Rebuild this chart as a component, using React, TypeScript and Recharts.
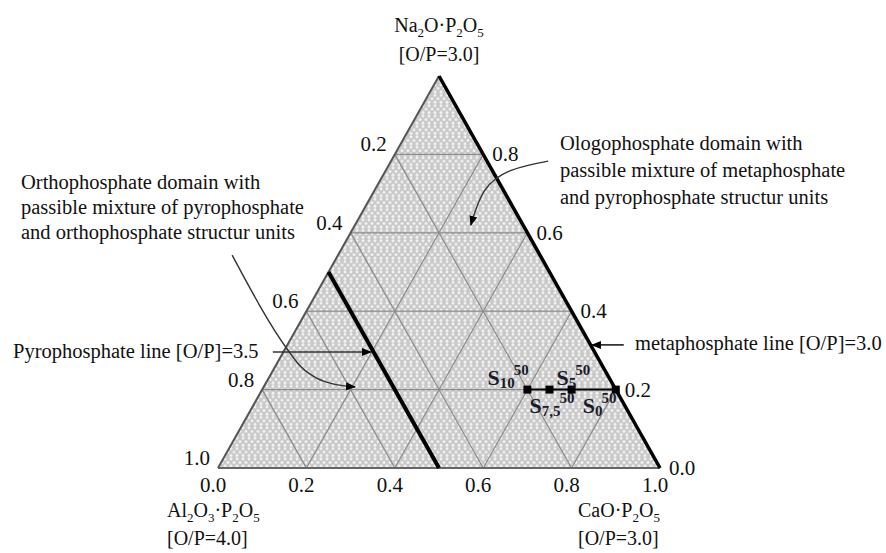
import React from 'react';
import { ComposedChart, XAxis, YAxis, Area, Line, Scatter, ReferenceLine } from 'recharts';

const FONT = "'Liberation Serif', 'Times New Roman', serif";

// grid spacing and tick values (mole fractions)
const gridSteps = [0.2, 0.4, 0.6, 0.8];
const bottomTicks = [0, 0.2, 0.4, 0.6, 0.8, 1.0]; // CaO·P2O5
const rightTicks = [0, 0.2, 0.4, 0.6, 0.8]; // Na2O·P2O5
const leftTicks = [0.2, 0.4, 0.6, 0.8, 1.0]; // Al2O3·P2O5

// glass samples
const sampleNames = ['S10', 'S7,5', 'S5', 'S0'];
const sampleAl = [0.2, 0.15, 0.1, 0];
const sampleNa = [0.2, 0.2, 0.2, 0.2];

// pyrophosphate line [O/P]=3.5 at constant Al2O3·P2O5
const pyroAl = 0.5;

// corners: Na2O·P2O5 (top), Al2O3·P2O5 (left), CaO·P2O5 (right)
const cornerNa = [1, 0, 0];
const cornerAl = [0, 1, 0];
const cornerNames = ['Na2O·P2O5', 'Al2O3·P2O5', 'CaO·P2O5'];
const cornerOP = ['[O/P=3.0]', '[O/P=4.0]', '[O/P=3.0]'];

// annotation arrows in plot coordinates (x along the base, y = height)
const ologoArrowX = [0.747, 0.665, 0.604, 0.572];
const ologoArrowY = [0.783, 0.76, 0.709, 0.62];
const orthoArrowX = [0.032, 0.158, 0.186, 0.222, 0.262, 0.31];
const orthoArrowY = [0.543, 0.301, 0.26, 0.23, 0.214, 0.207];
const pyroArrowX = [0.124, 0.346];
const pyroArrowY = [0.296, 0.296];
const metaArrowX = [0.918, 0.846];
const metaArrowY = [0.314, 0.314];

const ologoText = ['Ologophosphate domain with', 'passible mixture of metaphosphate', 'and pyrophosphate structur units'];
const orthoText = ['Orthophosphate domain with', 'passible mixture of pyrophosphate', 'and orthophosphate structur units'];

// ternary -> plot coordinates
const pt = (na: number, al: number) => ({ x: 1 - al - na / 2, y: na });

const zip = (xs: number[], ys: number[]) => xs.map((x, i) => ({ x, y: ys[i] }));

const triangle = [pt(0, 1), pt(1, 0), pt(0, 0)];

const samples = sampleNames.map((name, i) => ({ ...pt(sampleNa[i], sampleAl[i]), name }));

const corners = cornerNames.map((name, i) => ({ ...pt(cornerNa[i], cornerAl[i]), name, op: cornerOP[i] }));

const bottomData = bottomTicks.map(t => ({ ...pt(0, 1 - t), label: t.toFixed(1) }));
const rightData = rightTicks.map(t => ({ ...pt(t, 0), label: t.toFixed(1) }));
const leftData = leftTicks.map(t => ({ ...pt(1 - t, t), label: t.toFixed(1) }));

// label offsets for sample names (px from the point)
const sampleLabelOffset: Record<string, [number, number]> = {
  'S10': [-40, -5],
  'S5': [-15, -5],
  'S7,5': [-20, 23],
  'S0': [-33, 23],
};

// formula with subscripted digits
const formula = (s: string, size: number, sub: number) => {
  const parts = s.split(/(\d+)/).filter(Boolean);
  const out: React.ReactNode[] = [];
  let low = false;
  parts.forEach((p, i) => {
    const isNum = /^\d+$/.test(p);
    if (isNum) {
      out.push(<tspan key={i} dy={low ? 0 : 5} fontSize={sub}>{p}</tspan>);
      low = true;
    } else {
      out.push(<tspan key={i} dy={low ? -5 : 0} fontSize={size}>{p}</tspan>);
      low = false;
    }
  });
  return out;
};

const tickShape = (dx: number, dy: number, anchor: string) => (p: any) => (
  <text x={p.cx + dx} y={p.cy + dy} textAnchor={anchor} fontFamily={FONT} fontSize={21} fill="#111">
    {p.payload.label}
  </text>
);

const cornerShape = (p: any) => {
  const name = p.payload.name as string;
  let dx = 0;
  let dy1 = 49;
  let dy2 = 77;
  let anchor = 'start';
  if (name.startsWith('Na')) { anchor = 'middle'; dy1 = -44; dy2 = -15; }
  else if (name.startsWith('Al')) { dx = -51; }
  else { dx = -82; }
  return (
    <g>
      <text x={p.cx + dx} y={p.cy + dy1} textAnchor={anchor} fontFamily={FONT} fontSize={20} fill="#111">
        {formula(name, 20, 13)}
      </text>
      <text x={p.cx + dx} y={p.cy + dy2} textAnchor={anchor} fontFamily={FONT} fontSize={20} fill="#111">
        {p.payload.op}
      </text>
    </g>
  );
};

const sampleLabel = (p: any) => {
  const name = p.payload.name as string;
  const [dx, dy] = sampleLabelOffset[name];
  return (
    <text x={p.cx + dx} y={p.cy + dy} fontFamily={FONT} fontWeight="bold" fontSize={22} fill="#1a1a28">
      <tspan>S</tspan>
      <tspan dy={3} fontSize={15}>{name.slice(1)}</tspan>
      <tspan dy={-13} dx={-1} fontSize={15}>50</tspan>
    </text>
  );
};

const gridStroke = '#8a8a8a';
const noteStyle: React.CSSProperties = {
  position: 'absolute', fontFamily: FONT, fontSize: 20.5, color: '#111', whiteSpace: 'pre',
};

const App = () => {
  return (
    <div style={{ position: 'absolute', left: 0, top: 0, width: 886, height: 553, background: '#fff' }}>
      <ComposedChart width={886} height={553} margin={{ top: 76, right: 226, bottom: 85, left: 218 }}>
        <defs>
          <pattern id="ternFill" patternUnits="userSpaceOnUse" width={6} height={10.392}>
            <rect width={6} height={10.392} fill="#c8c8c8" />
            <circle cx={3} cy={1.732} r={1.5} fill="#f2f2f2" />
            <circle cx={3} cy={8.66} r={1.5} fill="#f2f2f2" />
            <circle cx={0} cy={5.196} r={1.5} fill="#f2f2f2" />
            <circle cx={6} cy={5.196} r={1.5} fill="#f2f2f2" />
          </pattern>
          <marker id="arrowHead" viewBox="0 0 10 10" refX={9} refY={5} markerWidth={10} markerHeight={10}
            markerUnits="userSpaceOnUse" orient="auto">
            <path d="M0,1 L10,5 L0,9 z" fill="#000" />
          </marker>
        </defs>
        <XAxis type="number" dataKey="x" domain={[0, 1]} hide />
        <YAxis type="number" dataKey="y" domain={[0, 1]} hide />

        <Area data={triangle} dataKey="y" type="linear" fill="url(#ternFill)" fillOpacity={1} stroke="none"
          isAnimationActive={false} activeDot={false} />

        {gridSteps.map(s => (
          <ReferenceLine key={'na' + s} segment={[pt(s, 1 - s), pt(s, 0)]} stroke={gridStroke} strokeWidth={1.2} />
        ))}
        {gridSteps.map(s => (
          <ReferenceLine key={'al' + s} segment={[pt(0, s), pt(1 - s, s)]} stroke={gridStroke} strokeWidth={1.2} />
        ))}
        {gridSteps.map(s => (
          <ReferenceLine key={'ca' + s} segment={[pt(0, 1 - s), pt(1 - s, 0)]} stroke={gridStroke} strokeWidth={1.2} />
        ))}

        {/* edges */}
        <ReferenceLine segment={[pt(0, 1), pt(0, 0)]} stroke="#666" strokeWidth={2} />
        <ReferenceLine segment={[pt(0, 1), pt(1, 0)]} stroke="#555" strokeWidth={2} />
        <ReferenceLine segment={[pt(1, 0), pt(0, 0)]} stroke="#000" strokeWidth={3.5} />
        <ReferenceLine segment={[pt(0, pyroAl), pt(1 - pyroAl, pyroAl)]} stroke="#000" strokeWidth={4} />

        {/* arrows */}
        <Line data={zip(ologoArrowX, ologoArrowY)} dataKey="y" type="natural" stroke="#333" strokeWidth={1.4}
          dot={false} activeDot={false} markerEnd="url(#arrowHead)" isAnimationActive={false} />
        <Line data={zip(orthoArrowX, orthoArrowY)} dataKey="y" type="monotoneX" stroke="#333" strokeWidth={1.4}
          dot={false} activeDot={false} markerEnd="url(#arrowHead)" isAnimationActive={false} />
        <Line data={zip(pyroArrowX, pyroArrowY)} dataKey="y" type="linear" stroke="#333" strokeWidth={1.6}
          dot={false} activeDot={false} markerEnd="url(#arrowHead)" isAnimationActive={false} />
        <Line data={zip(metaArrowX, metaArrowY)} dataKey="y" type="linear" stroke="#333" strokeWidth={1.6}
          dot={false} activeDot={false} markerEnd="url(#arrowHead)" isAnimationActive={false} />

        {/* samples */}
        <Scatter data={samples} line={{ stroke: '#000', strokeWidth: 2 }} isAnimationActive={false}
          shape={(p: any) => <rect x={p.cx - 4} y={p.cy - 4} width={8} height={8} fill="#000" />} />
        <Scatter data={samples} isAnimationActive={false} shape={sampleLabel} />

        {/* axis labels */}
        <Scatter data={bottomData} isAnimationActive={false} shape={tickShape(-5, 24, 'middle')} />
        <Scatter data={rightData} isAnimationActive={false} shape={tickShape(9, 7, 'start')} />
        <Scatter data={leftData} isAnimationActive={false} shape={tickShape(-8, -3, 'end')} />
        <Scatter data={corners} isAnimationActive={false} shape={cornerShape} />
      </ComposedChart>

      <div style={{ ...noteStyle, left: 560, top: 130, lineHeight: '27px' }}>
        {ologoText.join('\n')}
      </div>
      <div style={{ ...noteStyle, left: 21, top: 170, lineHeight: '25px' }}>
        {orthoText.join('\n')}
      </div>
      <div style={{ ...noteStyle, left: 13, top: 338, lineHeight: '26px' }}>
        Pyrophosphate line [O/P]=3.5
      </div>
      <div style={{ ...noteStyle, left: 635, top: 330, lineHeight: '26px' }}>
        metaphosphate line [O/P]=3.0
      </div>
    </div>
  );
};

export default App;
